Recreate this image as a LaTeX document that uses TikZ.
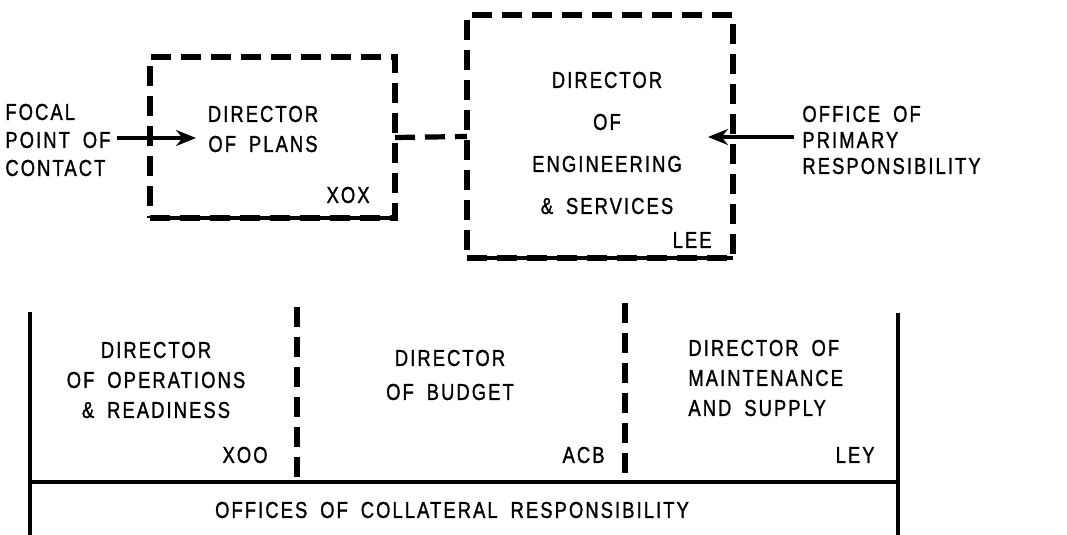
\documentclass[tikz,border=0pt]{standalone}
\usepackage{fontspec}
\setmainfont{Liberation Sans}[LetterSpace=9.0,WordSpace=1.8,FakeStretch=0.8,FakeBold=1.2]
\usetikzlibrary{arrows.meta,fit}
\tikzset{
  dline/.style={line width=2.6pt,dash pattern=on 10pt off 5pt},
  sline/.style={line width=2.2pt},
  lbl/.style={font=\fontsize{11.5}{15}\selectfont,inner sep=0pt},
  tip/.style={line width=1.8pt,-{Stealth[length=10pt,width=8pt]}}
}
\begin{document}
\begin{tikzpicture}[x=0.5pt,y=-0.5pt]
\useasboundingbox (0,0) rectangle (1067,535);
% top boxes
\coordinate (p1) at (150,57);
\coordinate (p2) at (395,218);
\node[dline,draw,fit=(p1)(p2),inner sep=0pt,outer sep=0pt] (plans) {};
\draw[sline] (plans.south west) -- (plans.south east);
\coordinate (e1) at (467,15);
\coordinate (e2) at (733,258);
\node[dline,draw,fit=(e1)(e2),inner sep=0pt,outer sep=0pt] (eng) {};
\draw[sline] (eng.south west) -- (eng.south east);
\draw[dline] (plans.east) -- (eng.west);
% box texts
\node[lbl,align=center] (plansname) at (263,129) {DIRECTOR\\OF PLANS};
\node[lbl,anchor=east] (xox) at (370,195) {XOX};
\node[lbl,align=center,font=\fontsize{11.5}{21}\selectfont] (engname) at (607,143) {DIRECTOR\\OF\\ENGINEERING\\\& SERVICES};
\node[lbl,anchor=east] (lee) at (712,240) {LEE};
% side labels
\node[lbl,align=left,anchor=west,font=\fontsize{11.5}{14}\selectfont] (focal) at (5,140) {FOCAL\\POINT OF\\CONTACT};
\coordinate (fin) at (196,138);
\draw[tip] (focal.east |- fin) ++(6,0) -- (fin);
\node[lbl,align=left,anchor=west,font=\fontsize{11.5}{13}\selectfont] (office) at (802,140) {OFFICE OF\\PRIMARY\\RESPONSIBILITY};
\coordinate (oin) at (708,137);
\draw[tip] (office.west |- oin) ++(-8,0) -- (oin);
% collateral frame
\draw[sline] (30,312) -- (30,535);
\draw[sline] (30,482) -- (898,482);
\draw[sline] (898,313) -- (898,535);
\draw[dline] (297,307) -- (297,482);
\draw[dline] (625,303) -- (625,482);
\node[lbl,align=center] (ops) at (156,380) {DIRECTOR\\OF OPERATIONS\\\& READINESS};
\node[lbl,anchor=east] (xoo) at (268,455) {XOO};
\node[lbl,align=center,font=\fontsize{11.5}{17}\selectfont] (budget) at (450,375) {DIRECTOR\\OF BUDGET};
\node[lbl,anchor=east] (acb) at (605,455) {ACB};
\node[lbl,align=left,anchor=west] (maint) at (688,378) {DIRECTOR OF\\MAINTENANCE\\AND SUPPLY};
\node[lbl,anchor=east] (ley) at (875,455) {LEY};
\node[lbl] (coll) at (452,510) {OFFICES OF COLLATERAL RESPONSIBILITY};
\end{tikzpicture}
\end{document}
